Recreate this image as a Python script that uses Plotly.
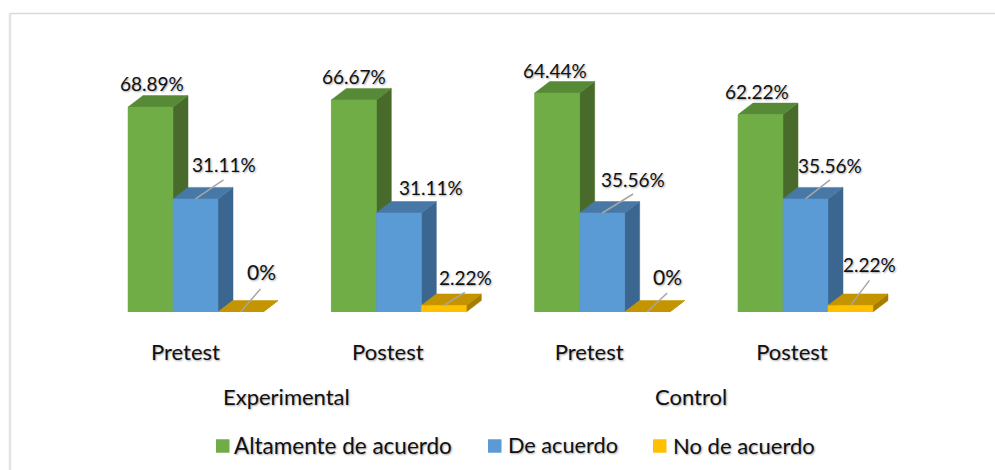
import plotly.graph_objects as go

# ---- data ----
series = ["Altamente de acuerdo", "De acuerdo", "No de acuerdo"]
groups = ["Experimental", "Control"]
tick_labels = ["Pretest", "Postest", "Pretest", "Postest"]
label_altamente = ["68.89%", "66.67%", "64.44%", "62.22%"]
label_de = ["31.11%", "31.11%", "35.56%", "35.56%"]
label_no = ["0%", "2.22%", "0%", "2.22%"]
# drawn bar heights (the picture's heights do not follow its labels)
height_altamente = [68.3, 70.7, 73.0, 65.8]
height_de = [37.7, 33.0, 33.0, 37.7]
height_no = [0.0, 2.2, 0.0, 2.2]

# ---- styling / layout ----
W, H = 995, 470
PX_X0, PX_Y0, GROUP_PX = 195.5, 312, 203.33
PX_PER_Y = 3.0
BAR_PX, DEPTH_X, DEPTH_Y = 45.0, 15.0, 11.5
FRONT = ["#70AD47", "#5B9BD5", "#FFC000"]
SIDE = ["#486B2B", "#3B6690", "#A67D00"]
TOP = ["#578A36", "#4878A6", "#C49500"]
FONT = "Lato"
SHADOW = "1px 1px 2px rgba(0,0,0,0.35)"
TXT = "#111111"
# label centres and leader ends relative to the front-top centre of each bar, in px
label_off = [
    [(1, -24), (0, -23), (-2, -23), (-3, -23)],
    [(28.5, -34), (32, -26), (31, -34), (24.5, -33)],
    [(20.5, -41), (22, -28), (20, -36), (19.5, -41)],
]
leader_off = [
    None,
    [(28, -19), None, (31, -19), (24.5, -19)],
    [(20, -23), (21, -13), (20, -19), (19, -25)],
]
tick_shift_px = [-10, -11, -13, -13.5]
group_centre_px = [286, 690.5]
legend_square_px = [216, 488, 653]
legend_text_px = [233, 507, 672]
legend_font = [22.5, 21.7, 22]
LEGEND_Y_PX, LEGEND_SQ = 445, 13.5

x_per_px = 1 / GROUP_PX
xrange = [-PX_X0 * x_per_px, (W - PX_X0) * x_per_px]
heights = [height_altamente, height_de, height_no]
labels = [label_altamente, label_de, label_no]


def py(px):  # paper y for a page pixel row
    return 1 - px / PX_Y0


fig = go.Figure()
xs = list(range(len(tick_labels)))
for s, name in enumerate(series):
    fig.add_trace(go.Bar(x=xs, y=heights[s], name=name, marker=dict(color=FRONT[s], line=dict(width=0))))

bw = BAR_PX * x_per_px
dx = DEPTH_X * x_per_px
dy = DEPTH_Y / PX_PER_Y


def poly(px, pyv, color):
    fig.add_trace(go.Scatter(x=px, y=pyv, mode="lines", fill="toself", fillcolor=color,
                             line=dict(color=color, width=0.5), showlegend=False, hoverinfo="skip"))


annotations = []
for i in xs:
    for s in range(3):
        h = heights[s][i]
        x0 = i + (s - 1.5) * bw
        x1 = x0 + bw
        poly([x1, x1 + dx, x1 + dx, x1, x1], [0, dy, h + dy, h, 0], SIDE[s])
        poly([x0, x1, x1 + dx, x0 + dx, x0], [h, h, h + dy, h + dy, h], TOP[s])
        if h > 0:
            poly([x0, x1, x1, x0, x0], [0, 0, h, h, 0], FRONT[s])
        xc = (x0 + x1) / 2
        lo = label_off[s][i]
        size = 21 if labels[s][i] == "0%" else 19
        annotations.append(dict(x=xc + lo[0] * x_per_px, y=h - lo[1] / PX_PER_Y, text=labels[s][i],
                                showarrow=False, xanchor="center", yanchor="middle",
                                font=dict(family=FONT, size=size, color=TXT, shadow=SHADOW)))
        if leader_off[s] and leader_off[s][i]:
            e = leader_off[s][i]
            fig.add_trace(go.Scatter(x=[xc, xc + e[0] * x_per_px], y=[h, h - e[1] / PX_PER_Y], mode="lines",
                                     line=dict(color="#A6A6A6", width=1.5), showlegend=False, hoverinfo="skip"))

for name, c in zip(groups, group_centre_px):
    annotations.append(dict(x=c / W, xref="paper", y=py(396.5), yref="paper", text=name, showarrow=False,
                            xanchor="center", yanchor="middle",
                            font=dict(family=FONT, size=22, color=TXT, shadow=SHADOW)))

shapes = [
    dict(type="line", xref="paper", yref="paper", x0=9.5 / W, x1=1, y0=py(13.5), y1=py(13.5),
         line=dict(color="#D9D9D9", width=1.5), layer="below"),
    dict(type="line", xref="paper", yref="paper", x0=10 / W, x1=10 / W, y0=py(13), y1=py(H),
         line=dict(color="#E4E4E4", width=2.5), layer="below"),
]

# legend row: square swatch + text per series
for s, name in enumerate(series):
    shapes.append(dict(type="rect", xref="paper", yref="paper", line=dict(width=0), fillcolor=FRONT[s],
                       x0=legend_square_px[s] / W, x1=(legend_square_px[s] + LEGEND_SQ) / W,
                       y0=py(LEGEND_Y_PX + 1 - LEGEND_SQ / 2), y1=py(LEGEND_Y_PX + 1 + LEGEND_SQ / 2)))
    annotations.append(dict(x=(legend_text_px[s] - 1) / W, xref="paper", y=py(LEGEND_Y_PX), yref="paper", text=name,
                            showarrow=False, xanchor="left", yanchor="middle",
                            font=dict(family=FONT, size=legend_font[s], color=TXT, shadow=SHADOW)))

fig.update_layout(
    width=W, height=H, margin=dict(l=0, r=0, t=0, b=H - PX_Y0, pad=0, autoexpand=False),
    paper_bgcolor="white", plot_bgcolor="white", barmode="group", bargap=1 - 3 * bw, bargroupgap=0,
    showlegend=False,
    xaxis=dict(range=xrange, tickmode="array",
               tickvals=[i + d * x_per_px for i, d in zip(xs, tick_shift_px)], ticktext=tick_labels,
               showgrid=False, zeroline=False, showline=False, ticks="", ticklabelstandoff=25,
               tickfont=dict(family=FONT, size=22, color=TXT, shadow=SHADOW), fixedrange=True),
    yaxis=dict(range=[0, PX_Y0 / PX_PER_Y], visible=False, fixedrange=True),
    annotations=annotations, shapes=shapes,
)
fig.write_html("out.html", config={"displayModeBar": False}, post_script="document.body.style.margin='0';")
